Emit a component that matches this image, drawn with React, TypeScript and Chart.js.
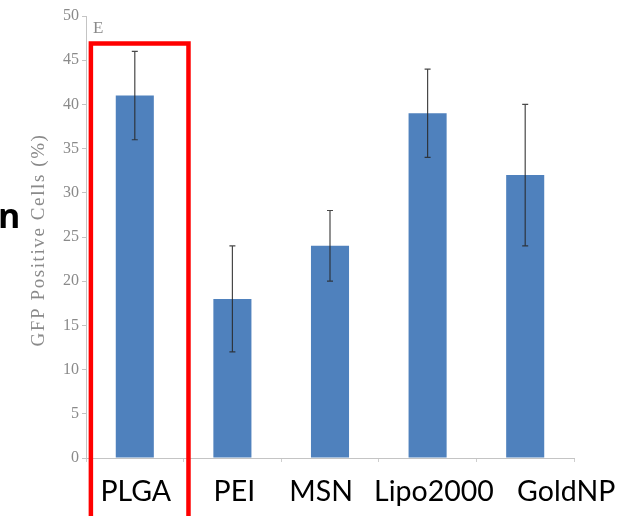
import React, { useEffect, useRef } from "react";
import { Chart, registerables } from "chart.js";

Chart.register(...registerables);

const categories = ["PLGA", "PEI", "MSN", "Lipo2000", "GoldNP"];
const meanValues = [41, 18, 24, 39, 32];
const errorLow = [36, 12, 20, 34, 24];
const errorHigh = [46, 24, 28, 44, 40];
const yTicks = [0, 5, 10, 15, 20, 25, 30, 35, 40, 45, 50];
const panelLabel = "E";
const yTitle = "GFP Positive Cells (%)";
const croppedText = "n";
const highlightTop = 47;

// horizontal shift of each pasted category label, as a fraction of category width
const labelShiftFrac = [0.01, 0.02, -0.09, 0.065, 0.42];

const errorBarPlugin = {
  id: "errorBars",
  afterDatasetsDraw(chart: any) {
    const { ctx } = chart;
    const meta = chart.getDatasetMeta(0);
    const y = chart.scales.y;
    ctx.save();
    ctx.strokeStyle = "rgba(40,40,40,0.85)";
    ctx.lineWidth = 1.2;
    meta.data.forEach((bar: any, i: number) => {
      const x = bar.x;
      const yl = y.getPixelForValue(errorLow[i]);
      const yh = y.getPixelForValue(errorHigh[i]);
      ctx.beginPath();
      ctx.moveTo(x, yl);
      ctx.lineTo(x, yh);
      ctx.moveTo(x - 3, yh);
      ctx.lineTo(x + 3, yh);
      ctx.moveTo(x - 3, yl);
      ctx.lineTo(x + 3, yl);
      ctx.stroke();
    });
    ctx.restore();
  },
};

const decorPlugin = {
  id: "decor",
  afterDraw(chart: any) {
    const { ctx, chartArea } = chart;
    const x = chart.scales.x;
    const y = chart.scales.y;
    ctx.save();
    // category labels
    const cw = x.getPixelForValue(1) - x.getPixelForValue(0);
    ctx.fillStyle = "#000";
    ctx.font = "28.5px Lato";
    ctx.textAlign = "center";
    ctx.textBaseline = "alphabetic";
    categories.forEach((c, i) => {
      ctx.fillText(c, x.getPixelForValue(i) + labelShiftFrac[i] * cw, chartArea.bottom + 43);
    });
    // y axis title (spaced serif)
    ctx.save();
    ctx.translate(39, (chartArea.top + chartArea.bottom) / 2 + 3);
    ctx.rotate(-Math.PI / 2);
    ctx.fillStyle = "#8a8a8a";
    ctx.font = "19px 'Liberation Serif'";
    (ctx as any).letterSpacing = "1.6px";
    ctx.textAlign = "center";
    ctx.textBaseline = "middle";
    ctx.fillText(yTitle, 0, 0);
    ctx.restore();
    // panel letter
    ctx.fillStyle = "#8a8a8a";
    ctx.font = "17px 'Liberation Serif'";
    ctx.textBaseline = "top";
    ctx.textAlign = "left";
    ctx.fillText(panelLabel, chartArea.left + 7, chartArea.top + 4);
    // cropped bold text fragment
    ctx.fillStyle = "#000";
    ctx.font = "bold 34px 'Open Sans'";
    ctx.textBaseline = "alphabetic";
    ctx.fillText(croppedText, -2, 228);
    // highlight box around first category
    const c0 = x.getPixelForValue(0);
    const left = c0 - cw * 0.45;
    const right = c0 + cw * 0.55;
    const top = y.getPixelForValue(highlightTop) + 1;
    ctx.strokeStyle = "#ff0000";
    ctx.lineWidth = 4.5;
    ctx.beginPath();
    ctx.moveTo(left, chart.height + 10);
    ctx.lineTo(left, top);
    ctx.lineTo(right, top);
    ctx.lineTo(right, chart.height + 10);
    ctx.stroke();
    ctx.restore();
  },
};

export default function App() {
  const ref = useRef<HTMLCanvasElement | null>(null);
  useEffect(() => {
    if (!ref.current) return;
    const chart = new Chart(ref.current, {
      type: "bar",
      data: {
        labels: categories,
        datasets: [
          {
            data: meanValues,
            backgroundColor: "#4f81bd",
            borderWidth: 0,
            barPercentage: 0.39,
            categoryPercentage: 1,
          },
        ],
      },
      options: {
        responsive: false,
        animation: false,
        events: [],
        layout: { padding: { left: 0, right: 58, top: 16, bottom: 0 } },
        plugins: { legend: { display: false }, tooltip: { enabled: false } },
        scales: {
          x: {
            grid: { display: true, drawOnChartArea: false, tickLength: 4, color: "#cfcfcf" },
            border: { color: "#c4c4c4", width: 1 },
            ticks: { display: false },
            afterFit(scale: any) {
              scale.height = 58;
            },
          },
          y: {
            min: 0,
            max: 50,
            afterBuildTicks(scale: any) {
              scale.ticks = yTicks.map((v) => ({ value: v }));
            },
            grid: { display: true, drawOnChartArea: false, tickLength: 4, color: "#c4c4c4" },
            border: { color: "#c4c4c4", width: 1 },
            ticks: {
              color: "#8a8a8a",
              font: { family: "Liberation Serif", size: 16 },
              padding: 3,
            },
            title: { display: false },
            afterFit(scale: any) {
              scale.width = 86;
            },
          },
        },
      },
      plugins: [errorBarPlugin, decorPlugin],
    });
    return () => chart.destroy();
  }, []);
  return (
    <div style={{ position: "fixed", left: 0, top: 0, width: 632, height: 516, background: "#fff" }}>
      <canvas ref={ref} width={632} height={516} style={{ display: "block" }} />
    </div>
  );
}
